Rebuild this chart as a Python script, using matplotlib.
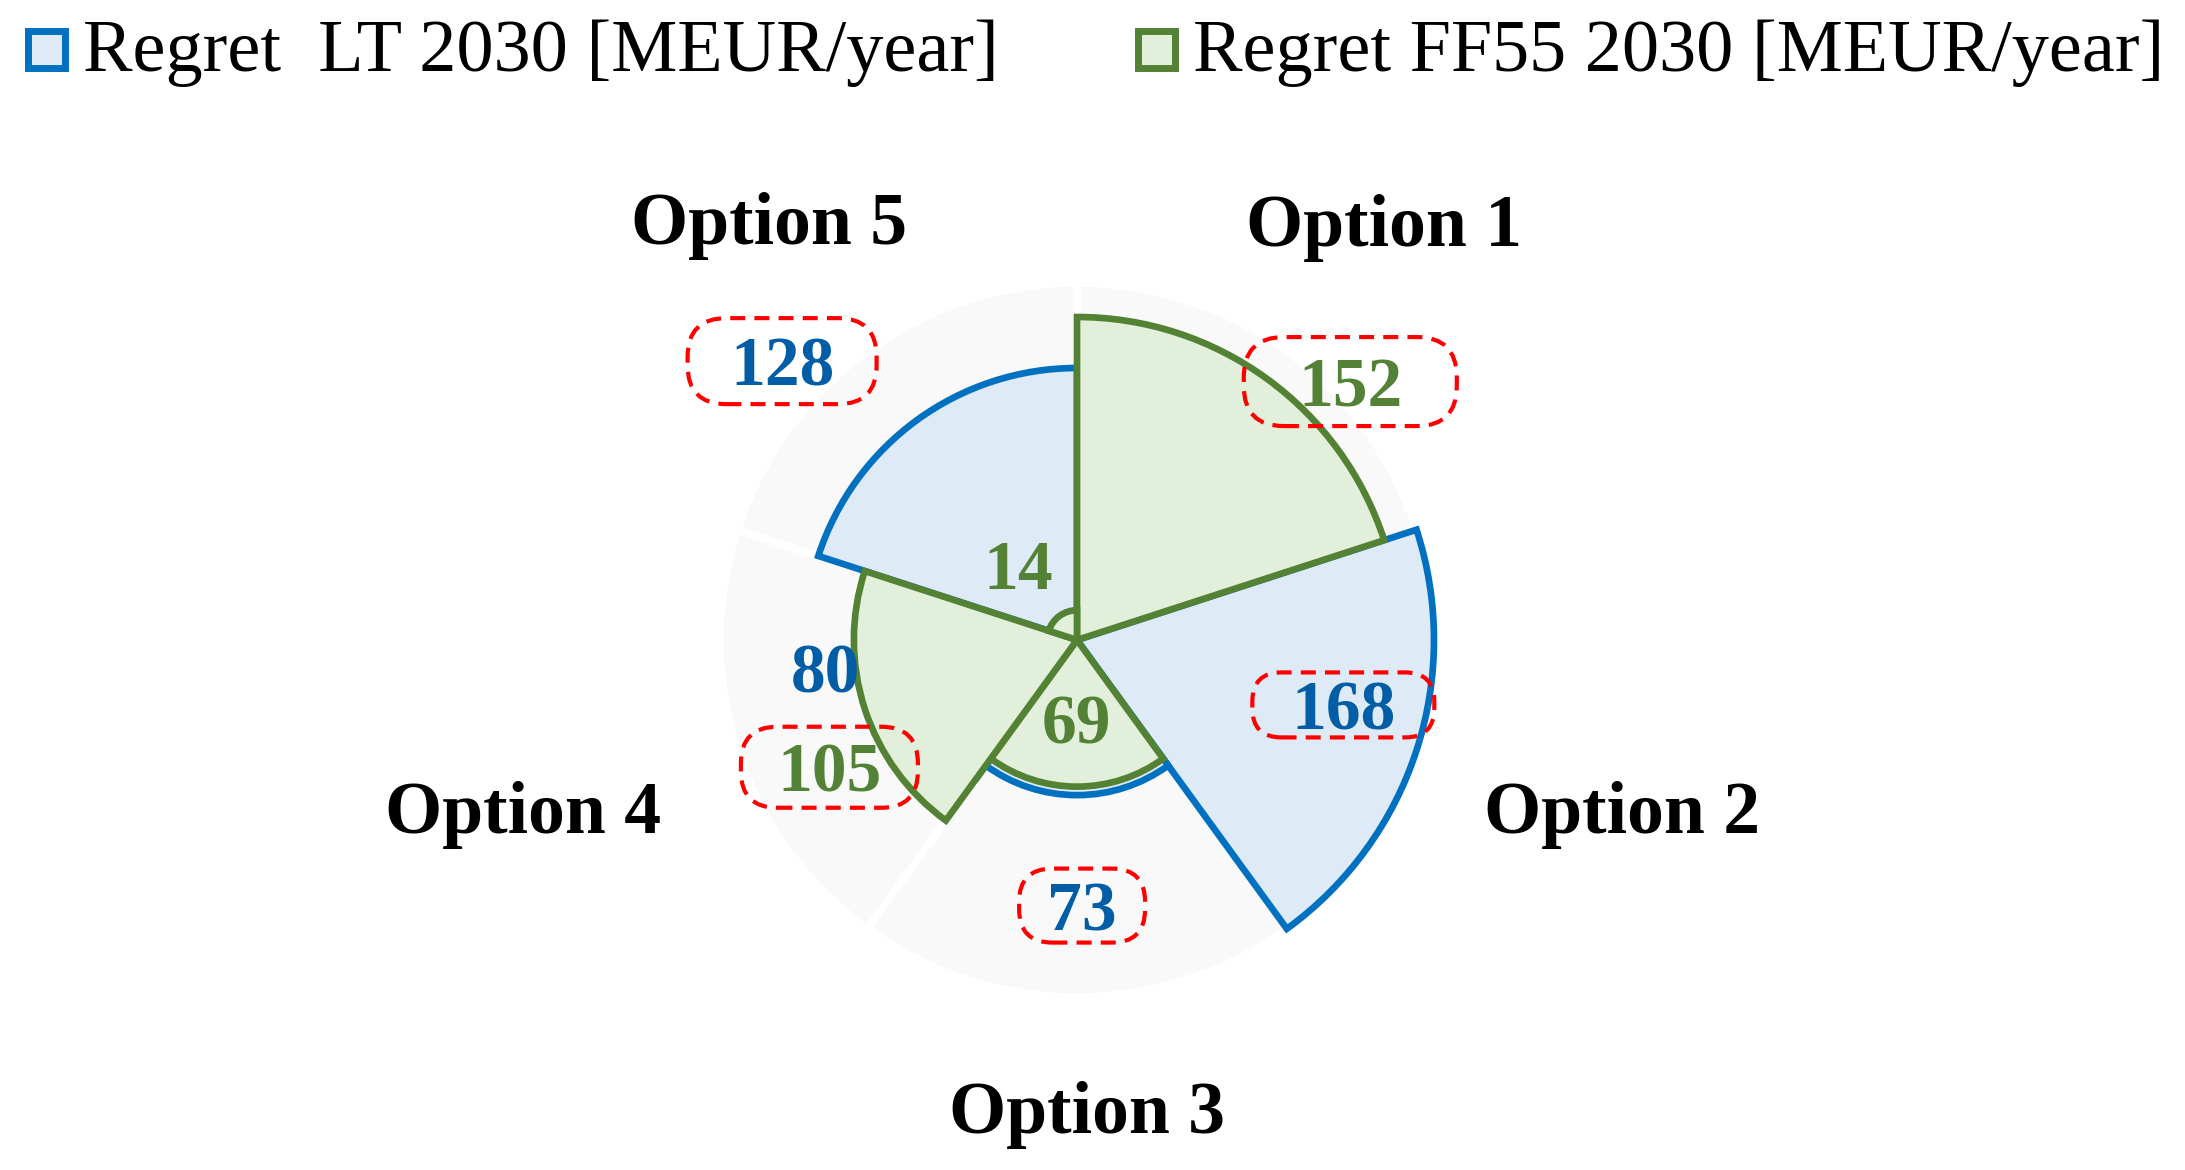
import numpy as np
import matplotlib.pyplot as plt
from matplotlib.patches import Rectangle, FancyBboxPatch
from matplotlib.transforms import ScaledTranslation, IdentityTransform

plt.rcParams['font.family'] = ['Liberation Serif', 'DejaVu Serif']

# data
options = ['Option 1', 'Option 2', 'Option 3', 'Option 4', 'Option 5']
regret_lt = [0, 168, 73, 80, 128]
regret_ff55 = [152, 0, 69, 105, 14]
legend_labels = ['Regret  LT 2030 [MEUR/year]', 'Regret FF55 2030 [MEUR/year]']

# layout (angle in deg clockwise from north, radius in data units)
lt_label_pos = [None, (103.7, 129), (178.9, 125), (263.6, 119), (313.4, 191)]
ff_label_pos = [(46.6, 177), None, (180.7, 37), (242.8, 131), (321.7, 45)]
option_label_pos = [(37.9, 235), (109.5, 272), (178.8, 232), (250.8, 276), (322.1, 236)]
box_sizes = [(213, 89), (182, 65), (126, 74), (177, 81), (189, 86)]  # px

lt_edge, lt_fill, lt_text = '#0070C0', '#DEEAF6', '#005DA6'
ff_edge, ff_fill, ff_text = '#548235', '#E2EFDA', '#538135'

W, H = 2185, 1170
fig = plt.figure(figsize=(W / 100, H / 100), dpi=100)

cx, cy, R = 1077, 640, 357
ax = fig.add_axes([(cx - R) / W, (H - cy - R) / H, 2 * R / W, 2 * R / H], projection='polar')
ax.set_theta_zero_location('N')
ax.set_theta_direction(-1)
ax.set_ylim(0, 168)
ax.set_axis_off()
ax.patch.set_alpha(0)

thetas = np.deg2rad(np.arange(len(options)) * 72 + 36)
width = np.deg2rad(72)

# grey background sectors
ax.bar(thetas, [168] * len(options), width=width, color='#F9F9F9',
       edgecolor='white', linewidth=5.5, zorder=1)

for i in range(len(options)):
    if regret_lt[i] > 0:
        ax.bar(thetas[i], regret_lt[i], width=width, color=lt_fill,
               edgecolor=lt_edge, linewidth=4.8, zorder=2, clip_on=False)
for i in range(len(options)):
    if regret_ff55[i] > 0:
        ax.bar(thetas[i], regret_ff55[i], width=width, color=ff_fill,
               edgecolor=ff_edge, linewidth=4.8, zorder=3, clip_on=False)

shift = ax.transData + ScaledTranslation(0, -5.4 / 72, fig.dpi_scale_trans)


def add_label(pos, value, color, boxed, size):
    a, r = pos
    th = np.deg2rad(a)
    ax.text(th, r, str(value), color=color, fontsize=50, fontweight='bold',
            ha='center', va='center', transform=shift, zorder=6, clip_on=False)
    if boxed:
        x, y = ax.transData.transform((th, r))
        w, h = size
        box = FancyBboxPatch((x - w / 2, y - h / 2), w, h,
                             boxstyle='round,pad=0,rounding_size=%.1f' % (0.45 * h),
                             fc='none', ec='#FF0000', lw=3.0, ls=(0, (3.6, 2.2)),
                             transform=IdentityTransform(), zorder=7)
        fig.add_artist(box)


for i in range(len(options)):
    big = max(regret_lt[i], regret_ff55[i])
    if lt_label_pos[i] is not None:
        add_label(lt_label_pos[i], regret_lt[i], lt_text, regret_lt[i] == big, box_sizes[i])
    if ff_label_pos[i] is not None:
        add_label(ff_label_pos[i], regret_ff55[i], ff_text, regret_ff55[i] == big, box_sizes[i])

for name, (a, r) in zip(options, option_label_pos):
    ax.text(np.deg2rad(a), r, name, fontsize=53, fontweight='bold',
            ha='center', va='baseline', clip_on=False, zorder=6)

# legend
for x0, edge, fill, label in [(24, lt_edge, lt_fill, legend_labels[0]),
                              (1134, ff_edge, ff_fill, legend_labels[1])]:
    fig.add_artist(Rectangle(((x0 + 3.5) / W, 1 - 67.5 / H), 37 / W, 37 / H,
                             transform=fig.transFigure, fc=fill, ec=edge, lw=5))
    fig.text((x0 + 59) / W, 1 - 71 / H, label, fontsize=53.5, va='baseline', ha='left')

fig.savefig('out.png', dpi=100)
